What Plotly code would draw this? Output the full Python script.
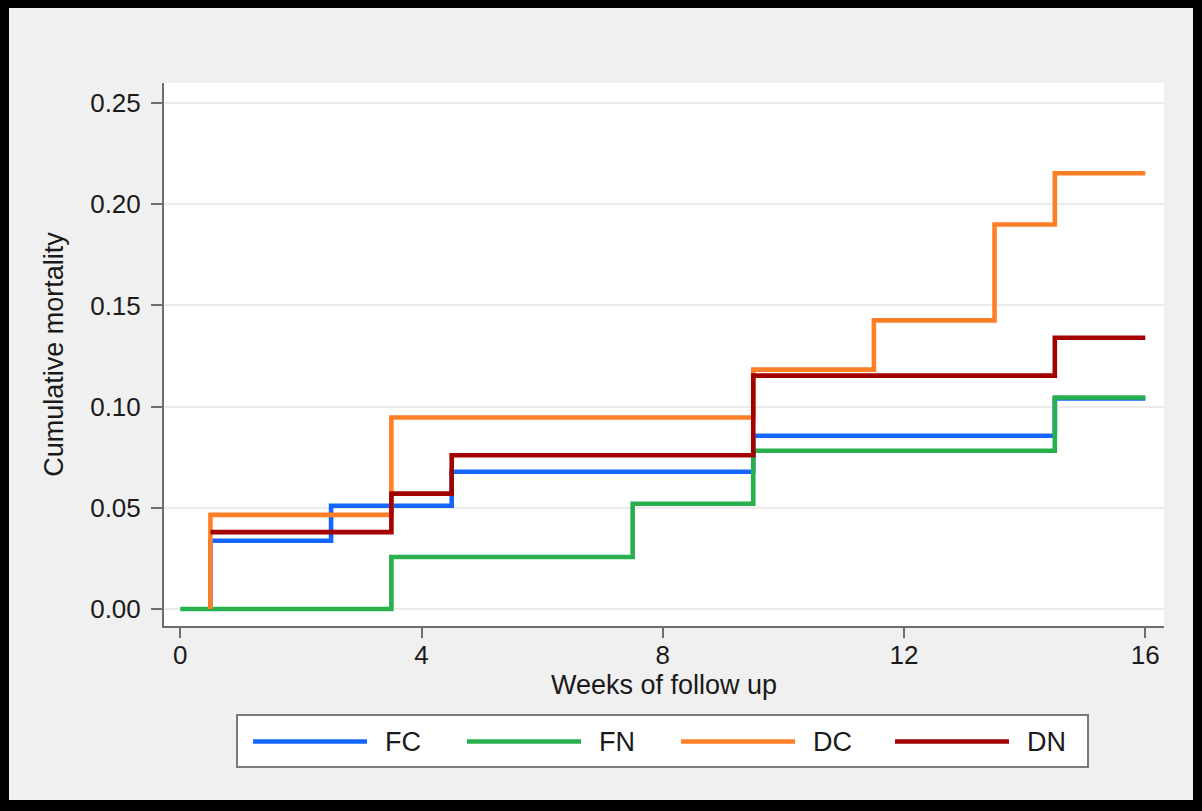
import plotly.graph_objects as go

# Kaplan-Meier style cumulative mortality by group (weeks of follow up)
weeks_fc = [0.5, 0.5, 2.5, 4.5, 9.5, 14.5, 16]
mort_fc = [0.0, 0.0337, 0.0510, 0.0678, 0.0856, 0.1040, 0.1040]

weeks_fn = [0, 3.5, 7.5, 9.5, 14.5, 16]
mort_fn = [0.0, 0.0257, 0.0520, 0.0782, 0.1045, 0.1045]

weeks_dc = [0.5, 0.5, 3.5, 9.5, 11.5, 13.5, 14.5, 16]
mort_dc = [0.0, 0.0465, 0.0946, 0.1183, 0.1426, 0.1900, 0.2153, 0.2153]

weeks_dn = [0.5, 3.5, 4.5, 9.5, 14.5, 16]
mort_dn = [0.0380, 0.0570, 0.0760, 0.1153, 0.1340, 0.1340]

group_names = ["FC", "FN", "DC", "DN"]
group_colors = ["#1466ff", "#27b04c", "#ff7f27", "#a30000"]

x_ticks = [0, 4, 8, 12, 16]
y_ticks = [0.00, 0.05, 0.10, 0.15, 0.20, 0.25]
y_tick_text = ["0.00", "0.05", "0.10", "0.15", "0.20", "0.25"]

W, H = 1202, 811
ML, MR, MT, MB = 164, 38, 83, 185
PW, PH = W - ML - MR, H - MT - MB
FONT = "Liberation Sans, Arial, Helvetica, sans-serif"
TXT = "#1a1a1a"


def px(x):
    return (x - ML) / PW


def py(y):
    return (H - MB - y) / PH


fig = go.Figure()
series = [(weeks_fc, mort_fc), (weeks_fn, mort_fn), (weeks_dc, mort_dc), (weeks_dn, mort_dn)]
for (wk, m), name, col in zip(series, group_names, group_colors):
    fig.add_trace(go.Scatter(
        x=wk, y=m, mode="lines", name=name,
        line=dict(color=col, width=4.6, shape="hv"),
        showlegend=False,
    ))

shapes = []
annotations = []

# legend box
shapes.append(dict(type="rect", xref="paper", yref="paper",
                   x0=px(237), x1=px(1088), y0=py(767), y1=py(715),
                   fillcolor="white", line=dict(color="#7a7a7a", width=2)))
leg_y = py(741.5)
for i, (name, col) in enumerate(zip(group_names, group_colors)):
    x0 = 253 + i * 214
    shapes.append(dict(type="line", xref="paper", yref="paper",
                       x0=px(x0), x1=px(x0 + 114), y0=leg_y, y1=leg_y,
                       line=dict(color=col, width=4.6)))
    annotations.append(dict(xref="paper", yref="paper", x=px(x0 + 130), y=leg_y,
                            text=name, showarrow=False, xanchor="left", yanchor="middle",
                            font=dict(family=FONT, size=27, color=TXT)))

# outer black frame
frame = [(0, 0, W, 8), (0, H - 11, W, H), (0, 0, 9, H), (W - 9, 0, W, H)]
for x0, y0, x1, y1 in frame:
    shapes.append(dict(type="rect", xref="paper", yref="paper",
                       x0=px(x0), x1=px(x1), y0=py(y1), y1=py(y0),
                       fillcolor="black", line=dict(width=0), layer="above"))

fig.update_layout(
    width=W, height=H,
    margin=dict(l=ML, r=MR, t=MT, b=MB, pad=0),
    paper_bgcolor="#f0f0f0",
    plot_bgcolor="white",
    font=dict(family=FONT, size=26, color=TXT),
    shapes=shapes,
    annotations=annotations,
    showlegend=False,
)
fig.update_xaxes(
    range=[-0.27, 16.31], tickvals=x_ticks, ticks="outside", ticklen=10,
    tickwidth=2, tickcolor="#6e6e6e", showline=True, linecolor="#6e6e6e", linewidth=2,
    showgrid=False, zeroline=False, ticklabelstandoff=-5,
    tickfont=dict(size=26, family=FONT, color=TXT),
    title=dict(text="Weeks of follow up", font=dict(size=27, family=FONT, color=TXT), standoff=2),
)
fig.update_yaxes(
    range=[-0.0084, 0.2599], tickvals=y_ticks, ticktext=y_tick_text, ticks="outside",
    ticklen=11, tickwidth=2, tickcolor="#6e6e6e", showline=True, linecolor="#6e6e6e",
    linewidth=2, showgrid=True, gridcolor="#ebebeb", gridwidth=2, zeroline=False,
    ticklabelstandoff=5,
    tickfont=dict(size=26, family=FONT, color=TXT),
    title=dict(text="Cumulative mortality", font=dict(size=27, family=FONT, color=TXT), standoff=19),
)

fig.write_html("out.html")
